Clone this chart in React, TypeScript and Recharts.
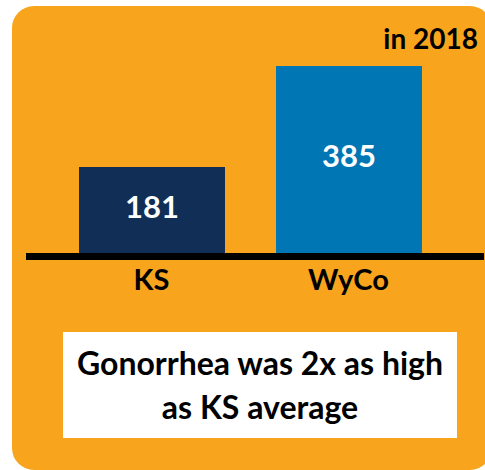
import React from 'react';
import { BarChart, Bar, XAxis, YAxis, LabelList, Cell } from 'recharts';

const regions = ['KS', 'WyCo'];
const rates = [181, 385];
const barColors = ['#112f56', '#0076b4'];
const year = 'in 2018';
const noteLines = ['Gonorrhea was 2x as high', 'as KS average'];

const data = regions.map((name, i) => ({ name, rate: rates[i] }));

const FONT = 'Lato, "Open Sans", sans-serif';

const RegionTick = ({ x, y, payload }: any) => (
  <text x={x} y={y} dy={33} textAnchor="middle" fill="#000" fontSize={29} fontWeight={700} fontFamily={FONT}>
    {payload.value}
  </text>
);

export default function App() {
  return (
    <div style={{ position: 'absolute', left: 0, top: 0, width: 485, height: 470, overflow: 'hidden', background: '#fff' }}>
      <div
        style={{
          position: 'absolute',
          left: 12,
          top: 6,
          width: 480,
          height: 464,
          borderRadius: 22,
          background: '#f8a51d',
        }}
      />
      <div
        style={{
          position: 'absolute',
          right: 7,
          top: 21,
          fontFamily: FONT,
          fontWeight: 700,
          fontSize: 28,
          color: '#000',
          lineHeight: '34px',
        }}
      >
        {year}
      </div>
      <div style={{ position: 'absolute', left: 0, top: 0 }}>
        <BarChart
          width={485}
          height={470}
          data={data}
          margin={{ top: 56.5, right: 1, left: 26, bottom: 173.5 }}
        >
          <YAxis hide domain={[0, 404]} />
          <XAxis
            dataKey="name"
            height={40}
            padding={{ left: 27, right: 37 }}
            axisLine={{ stroke: '#000', strokeWidth: 7 }}
            tickLine={false}
            tickSize={0}
            tickMargin={0}
            tick={<RegionTick />}
            interval={0}
          />
          <Bar dataKey="rate" barSize={146} isAnimationActive={false}>
            {data.map((d, i) => (
              <Cell key={d.name} fill={barColors[i]} />
            ))}
            <LabelList
              dataKey="rate"
              position="center"
              fill="#fff"
              fontSize={31}
              fontWeight={700}
              fontFamily={FONT}
              dy={-5}
            />
          </Bar>
        </BarChart>
      </div>
      <div
        style={{
          position: 'absolute',
          left: 63,
          top: 332,
          width: 394,
          height: 106,
          background: '#fff',
          display: 'flex',
          flexDirection: 'column',
          justifyContent: 'center',
          alignItems: 'center',
          fontFamily: FONT,
          fontWeight: 700,
          fontSize: 32,
          lineHeight: '44px',
          color: '#000',
        }}
      >
        {noteLines.map((l) => (
          <div key={l}>{l}</div>
        ))}
      </div>
    </div>
  );
}
